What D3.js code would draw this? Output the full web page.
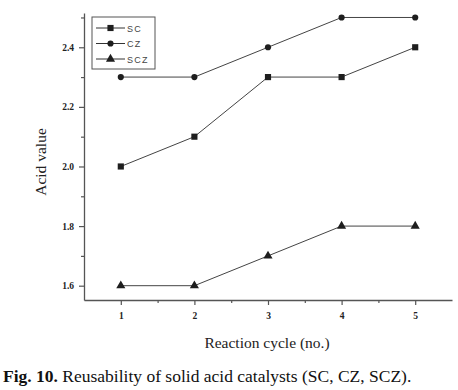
<!DOCTYPE html>
<html><head><meta charset="utf-8">
<script src="https://cdn.jsdelivr.net/npm/d3@7"></script>
<style>body{margin:0;background:#fff}svg{display:block}</style>
</head><body>
<script>
const cycles = [1, 2, 3, 4, 5];
const seriesNames = ["SC", "CZ", "SCZ"];
const scValues = [2.0, 2.1, 2.3, 2.3, 2.4];
const czValues = [2.3, 2.3, 2.4, 2.5, 2.5];
const sczValues = [1.6, 1.6, 1.7, 1.8, 1.8];
const yTickLabels = ["1.6", "1.8", "2.0", "2.2", "2.4"];
const xTickLabels = ["1", "2", "3", "4", "5"];

const W = 458, H = 390;
const svg = d3.select("body").append("svg").attr("width", W).attr("height", H);

const x = d3.scaleLinear().domain([0.5, 5.5]).range([84, 452]);
const y = d3.scaleLinear().domain([1.552, 2.515]).range([300, 13]);

const axisCol = "#555";
const markCol = "#1e1e1e";

// y axis
const yMajor = yTickLabels.map(Number);
const yMinor = [1.7, 1.9, 2.1, 2.3, 2.5];
const gy = svg.append("g").attr("transform", "translate(84,0)");
gy.call(d3.axisLeft(y).tickValues(yMajor).tickFormat((d,i)=>yTickLabels[i]).tickSize(5).tickPadding(5).tickSizeOuter(0));
gy.append("g").call(d3.axisLeft(y).tickValues(yMinor).tickFormat("").tickSize(3).tickSizeOuter(0)).select(".domain").remove();
// x axis
const xMinor = [1.5, 2.5, 3.5, 4.5];
const gx = svg.append("g").attr("transform", "translate(0,300)");
gx.call(d3.axisBottom(x).tickValues(cycles).tickFormat((d,i)=>xTickLabels[i]).tickSize(5).tickPadding(7).tickSizeOuter(0));
gx.append("g").call(d3.axisBottom(x).tickValues(xMinor).tickFormat("").tickSize(3).tickSizeOuter(0)).select(".domain").remove();

svg.selectAll(".domain").attr("stroke", axisCol).attr("stroke-width", 1.3);
svg.selectAll(".tick line").attr("stroke", axisCol).attr("stroke-width", 1.2);
svg.selectAll(".tick text").attr("font-family", "Liberation Serif").attr("font-weight", "bold")
  .attr("font-size", 9.5).attr("fill", "#222");

const series = [
  {name: seriesNames[0], values: scValues, shape: d3.symbolSquare, size: 38},
  {name: seriesNames[1], values: czValues, shape: d3.symbolCircle, size: 30},
  {name: seriesNames[2], values: sczValues, shape: d3.symbolTriangle, size: 36}
];

const line = d3.line().x((d,i)=>x(cycles[i])).y(d=>y(d));
series.forEach(s => {
  svg.append("path").attr("d", line(s.values)).attr("fill", "none")
    .attr("stroke", "#444").attr("stroke-width", 1);
  svg.selectAll(null).data(s.values).enter().append("path")
    .attr("d", d3.symbol().type(s.shape).size(s.size))
    .attr("transform", (d,i)=>`translate(${x(cycles[i])},${y(d)})`)
    .attr("fill", markCol);
});

// legend
const lg = svg.append("g");
lg.append("rect").attr("x", 92).attr("y", 17).attr("width", 63).attr("height", 52)
  .attr("fill", "#fff").attr("stroke", "#555").attr("stroke-width", 1);
series.forEach((s, i) => {
  const yy = 28 + i * 15.5;
  lg.append("line").attr("x1", 96).attr("x2", 125).attr("y1", yy).attr("y2", yy)
    .attr("stroke", "#333").attr("stroke-width", 1);
  lg.append("path").attr("d", d3.symbol().type(s.shape).size(s.size))
    .attr("transform", `translate(110.5,${yy})`).attr("fill", markCol);
  lg.append("text").attr("x", 127).attr("y", yy + 3.5).text(s.name)
    .attr("font-family", "Liberation Sans").attr("font-size", 9).attr("letter-spacing", 1.2)
    .attr("fill", "#444");
});

// axis titles
svg.append("text").attr("x", 267).attr("y", 348).attr("text-anchor", "middle")
  .attr("font-family", "Liberation Serif").attr("font-size", 15.5).attr("fill", "#222")
  .text("Reaction cycle (no.)");
svg.append("text").attr("transform", "translate(46,162) rotate(-90)").attr("text-anchor", "middle")
  .attr("font-family", "Liberation Serif").attr("font-size", 15.5).attr("fill", "#222")
  .text("Acid value");

// caption
const cap = svg.append("text").attr("x", 3).attr("y", 381.5)
  .attr("font-family", "Liberation Serif").attr("font-size", 17.5).attr("fill", "#111");
cap.append("tspan").attr("font-weight", "bold").text("Fig. 10.");
cap.append("tspan").text(" Reusability of solid acid catalysts (SC, CZ, SCZ).");
</script>
</body></html>
